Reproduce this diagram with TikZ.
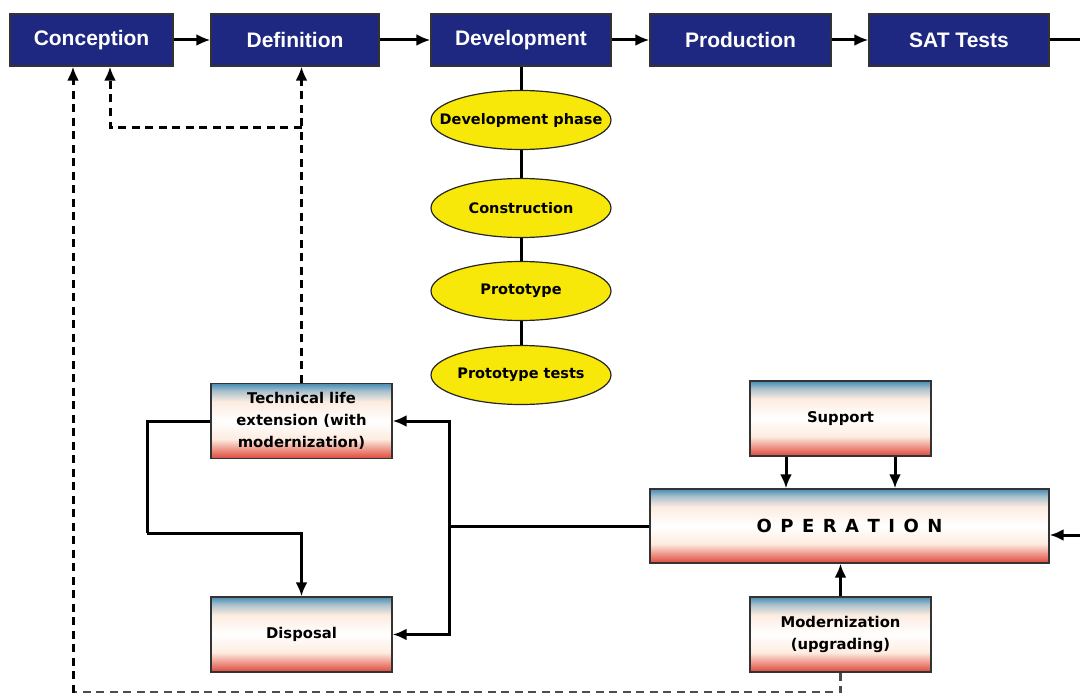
\documentclass[tikz,border=0pt]{standalone}
\usepackage{fontspec}
\setmainfont{DejaVu Sans}
\newfontfamily\phasefont{Liberation Sans}
\usetikzlibrary{arrows.meta,shapes.geometric}

\definecolor{navy}{RGB}{30,40,128}
\definecolor{phaseyellow}{RGB}{248,232,10}
\definecolor{shblue}{RGB}{70,140,180}
\definecolor{shred}{RGB}{224,72,60}
\definecolor{shcream}{RGB}{253,236,224}

% vertical fade: red foot, pale middle, blue head
\pgfdeclareverticalshading{lifeshade}{100bp}{%
  color(0bp)=(shred); color(25bp)=(shred);
  color(29bp)=(shred!70!shcream); color(38bp)=(shcream);
  color(50bp)=(white); color(63bp)=(shcream);
  color(70bp)=(shblue!45!shcream); color(75bp)=(shblue);
  color(100bp)=(shblue)}

\tikzset{
  phasebox/.style={draw=black!80, line width=1.2pt, fill=navy,
    text=white, font=\phasefont\bfseries\fontsize{21}{24}\selectfont,
    minimum height=52pt, inner sep=0pt},
  stagebubble/.style={ellipse, draw=black!85, line width=1.2pt,
    fill=phaseyellow, minimum width=180pt, minimum height=59pt,
    inner xsep=-22pt, inner ysep=-4pt,
    font=\bfseries\fontsize{14.5}{17}\selectfont},
  lifebox/.style={draw=black!80, line width=1.3pt, shading=lifeshade,
    minimum width=181pt, minimum height=75pt, inner sep=0pt,
    align=center, font=\bfseries\fontsize{14.8}{22}\selectfont},
  flow/.style={line width=3pt, -{Latex[length=14pt,width=12pt]}},
  link/.style={line width=3pt},
  backflow/.style={line width=3pt, dash pattern=on 8pt off 5.5pt,
    -{Latex[length=14pt,width=12pt]}},
  backlink/.style={line width=3pt, dash pattern=on 8pt off 5.5pt}
}

\begin{document}
\begin{tikzpicture}[x=1pt,y=-1pt]
\useasboundingbox (0,0) rectangle (1080,693);

% life-cycle phases along the top
\node[phasebox, minimum width=163pt] (conc) at (91.5,40) {Conception};
\node[phasebox, minimum width=168pt] (def)  at (295,40)  {Definition};
\node[phasebox, minimum width=180pt] (dev)  at (521,40)  {Development};
\node[phasebox, minimum width=181pt] (prod) at (740.5,40) {Production};
\node[phasebox, minimum width=180pt] (sat)  at (959,40)  {SAT Tests};

% development sub-steps
\node[stagebubble] (dphase) at (521,120) {Development phase};
\node[stagebubble] (constr) at (521,208) {Construction};
\node[stagebubble] (proto)  at (521,291) {Prototype};
\node[stagebubble] (ptests) at (521,375) {Prototype tests};

% in-service boxes
\node[lifebox] (tech) at (301.5,421) {Technical life\\extension (with\\modernization)};
\node[lifebox] (disp) at (301.5,634.5) {Disposal};
\node[lifebox] (supp) at (840.5,418.5) {Support};
\node[lifebox, minimum width=399pt, minimum height=74pt,
      font=\bfseries\fontsize{18}{22}\selectfont] (op) at (849.5,526)
  {O\hspace{8.5pt}P\hspace{8.5pt}E\hspace{8.5pt}R\hspace{8.5pt}A\hspace{8.5pt}T\hspace{8.5pt}I\hspace{8.5pt}O\hspace{8.5pt}N};
\node[lifebox] (modz) at (840.5,634.5) {Modernization\\(upgrading)};

% helper points
\coordinate (satout) at (1080,40);
\coordinate (opin)   at (1080,535);
\coordinate (split)  at (449,526);
\coordinate (tleft)  at (147,421);
\coordinate (tdown)  at (147,533);
\coordinate (branch) at (301.5,127);
\coordinate (bottomleft) at (73,692.5);

% main chain
\draw[flow] (conc) -- (def);
\draw[flow] (def) -- (dev);
\draw[flow] (dev) -- (prod);
\draw[flow] (prod) -- (sat);
\draw[link] (sat) -- (satout);

% development column
\draw[link] (dev) -- (dphase);
\draw[link] (dphase) -- (constr);
\draw[link] (constr) -- (proto);
\draw[link] (proto) -- (ptests);

% operation and its feeds
\draw[flow] ([xshift=-54.5pt]supp.south) -- ([xshift=-54.5pt]supp.south |- op.north);
\draw[flow] ([xshift=54.5pt]supp.south) -- ([xshift=54.5pt]supp.south |- op.north);
\draw[flow] (modz.north) -- (modz.north |- op.south);
\draw[flow] (opin) -- (opin -| op.east);

% end-of-life branches
\draw[link] (op.west) -- (split);
\draw[flow] (split) |- (tech.east);
\draw[flow] (split) |- (disp.east);
\draw[link] (tech.west) -- (tleft) -- (tdown);
\draw[flow] (tdown) -| (disp.north);

% feedback paths
\draw[backflow] (tech.north) -- (tech.north |- def.south);
\draw[backflow] (branch) -| ([xshift=18.5pt]conc.south);
\draw[backlink, draw=black!70] (modz.south) |- (bottomleft);
\draw[backflow] (bottomleft) -- ([xshift=-18.5pt]conc.south);
\end{tikzpicture}
\end{document}
